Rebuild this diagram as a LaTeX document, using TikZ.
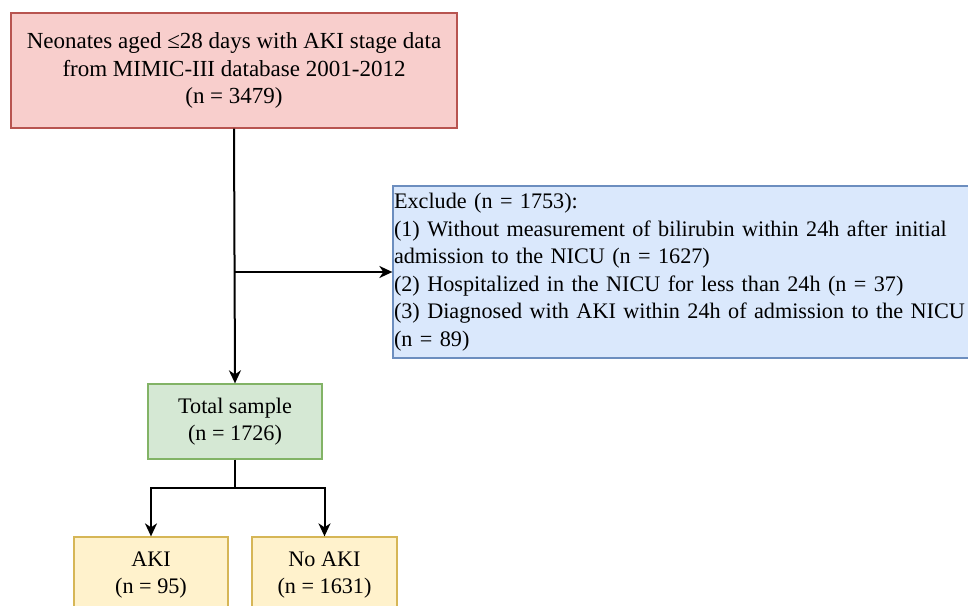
\documentclass[tikz,border=0pt]{standalone}
\usepackage{fontspec}
\setmainfont{Liberation Serif}
\usetikzlibrary{arrows.meta}
\definecolor{redfill}{HTML}{F8CECC}
\definecolor{reddraw}{HTML}{B85450}
\definecolor{bluefill}{HTML}{DAE8FC}
\definecolor{bluedraw}{HTML}{6C8EBF}
\definecolor{greenfill}{HTML}{D5E8D4}
\definecolor{greendraw}{HTML}{82B366}
\definecolor{yellowfill}{HTML}{FFF2CC}
\definecolor{yellowdraw}{HTML}{D6B656}
\tikzset{
  box/.style={draw, line width=1.3pt, inner sep=1pt, align=center,
    font=\fontsize{22.2}{27.5}\selectfont},
  conn/.style={line width=2pt, -{Stealth[length=13pt,width=12pt,inset=4pt]}},
  plain/.style={line width=2pt}
}
\begin{document}
\begin{tikzpicture}[x=1pt,y=-1pt]
\useasboundingbox (0,0) rectangle (968,605);
\node[box, fill=redfill, draw=reddraw, minimum width=446pt, minimum height=115pt,
  font=\fontsize{23}{27.5}\selectfont] (top) at (234,70.5)
  {Neonates aged ≤28 days with AKI stage data\\from MIMIC-III database 2001-2012\\(n = 3479)};
\node[box, fill=bluefill, draw=bluedraw, minimum width=577pt, minimum height=172pt,
  text width=575pt, align=left] (excl) at (681.5,272)
  {Exclude (n = 1753):\\
   (1) Without measurement of bilirubin within 24h after initial\\
   admission to the NICU (n = 1627)\\
   (2) Hospitalized in the NICU for less than 24h (n = 37)\\
   (3) Diagnosed with AKI within 24h of admission to the NICU\\
   (n = 89)};
\node[box, fill=greenfill, draw=greendraw, minimum width=174pt, minimum height=75pt] (total) at (235,421.5)
  {Total sample\\(n = 1726)};
\node[box, fill=yellowfill, draw=yellowdraw, minimum width=154pt, minimum height=76pt] (aki) at (151,575)
  {AKI\\(n = 95)};
\node[box, fill=yellowfill, draw=yellowdraw, minimum width=145pt, minimum height=76pt] (noaki) at (324.5,575)
  {No AKI\\(n = 1631)};
\coordinate (j1) at (234,272);
\coordinate (j2) at (235,488);
\draw[conn] (top.south) -- (total.north);
\draw[conn] (j1) -- (excl.west);
\draw[plain] (total.south) -- (j2);
\draw[conn] (j2) -| (aki.north);
\draw[conn] (j2) -| (noaki.north);
\end{tikzpicture}
\end{document}
